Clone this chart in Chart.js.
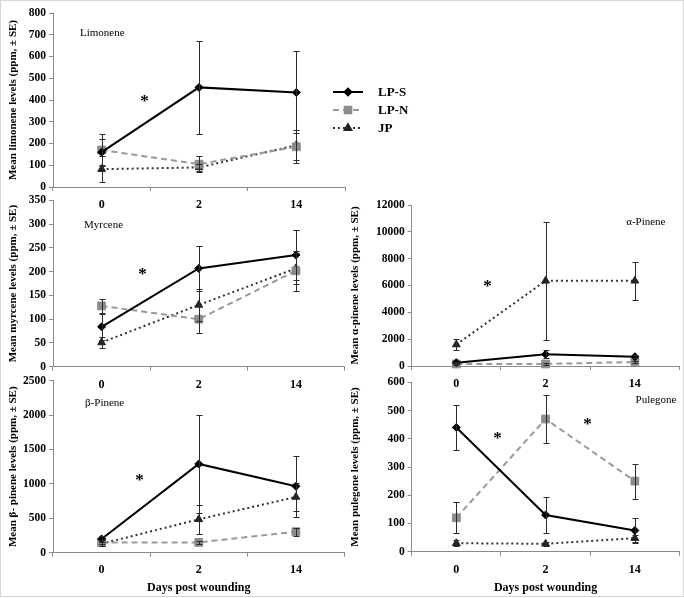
<!DOCTYPE html>
<html><head><meta charset="utf-8">
<script src="https://cdn.jsdelivr.net/npm/chart.js@4.4.1/dist/chart.umd.min.js"></script>
<style>
html,body{margin:0;padding:0;background:#fff;}
#wrap{position:relative;width:684px;height:598px;overflow:hidden;background:#fff;}
#frame{position:absolute;left:0;top:0;width:682px;height:595px;border:1px solid #d6d6d6;pointer-events:none;}
canvas{position:absolute;}
</style></head><body>
<div id="wrap">
<canvas id="cA" width="684" height="215" style="left:0;top:0"></canvas>
<canvas id="cB" width="351" height="200" style="left:0;top:190px"></canvas>
<canvas id="cC" width="351" height="228" style="left:0;top:370px"></canvas>
<canvas id="cD" width="344" height="200" style="left:342px;top:190px"></canvas>
<canvas id="cE" width="344" height="228" style="left:342px;top:370px"></canvas>
<div id="frame"></div>
</div>
<script>
// ---- data ----
const days = ['0', '2', '14'];
const seriesNames = ['LP-S', 'LP-N', 'JP'];

const limoneneLPS = [160, 458, 435];   const limoneneLPSse = [60, 215, 188];
const limoneneLPN = [170, 105, 185];   const limoneneLPNse = [75, 38, 75];
const limoneneJP  = [82, 90, 192];     const limoneneJPse  = [60, 15, 70];

const myrceneLPS = [84, 207, 235];     const myrceneLPSse = [28, 47, 52];
const myrceneLPN = [128, 100, 202];    const myrceneLPNse = [14, 28, 42];
const myrceneJP  = [51, 130, 207];     const myrceneJPse  = [12, 33, 33];

const bPineneLPS = [200, 1290, 965];   const bPineneLPSse = [40, 710, 440];
const bPineneLPN = [150, 150, 305];    const bPineneLPNse = [30, 20, 60];
const bPineneJP  = [130, 485, 810];    const bPineneJPse  = [30, 215, 200];

const aPineneLPS = [250, 870, 690];    const aPineneLPSse = [80, 300, 100];
const aPineneLPN = [150, 150, 300];    const aPineneLPNse = [50, 50, 60];
const aPineneJP  = [1600, 6350, 6350]; const aPineneJPse  = [420, 4400, 1400];

const pulegoneLPS = [440, 130, 75];    const pulegoneLPSse = [80, 65, 45];
const pulegoneLPN = [120, 470, 250];   const pulegoneLPNse = [55, 85, 62];
const pulegoneJP  = [30, 28, 48];      const pulegoneJPse  = [10, 8, 12];

// significance marks: [category position, value]
const limoneneStars = [[0.44, 409]];
const myrceneStars  = [[0.42, 203]];
const bPineneStars  = [[0.39, 1100]];
const aPineneStars  = [[0.35, 6185]];
const pulegoneStars = [[0.46, 413], [1.47, 463]];

// ---- styles ----
const FONT = '"Liberation Serif", "Times New Roman", serif';
const AXIS = '#8a8a8a';
const styles = {
  'LP-S': {borderColor:'#000', backgroundColor:'#000', pointBorderColor:'#000', borderWidth:2, borderDash:[], pointStyle:'rectRot', pointRadius:4},
  'LP-N': {borderColor:'#9a9a9a', backgroundColor:'#8c8c8c', pointBorderColor:'#8c8c8c', borderWidth:2, borderDash:[6,4], pointStyle:'rect', pointRadius:5.5},
  'JP':   {borderColor:'#333', backgroundColor:'#222', pointBorderColor:'#222', borderWidth:2, borderDash:[2,3], pointStyle:'triangle', pointRadius:4.5}
};

const errorBars = {
  id: 'errorBars',
  afterDatasetsDraw(chart) {
    const ctx = chart.ctx, ys = chart.scales.y;
    ctx.save();
    ctx.strokeStyle = '#2a2a2a';
    ctx.lineWidth = 1;
    ctx.setLineDash([]);
    chart.data.datasets.forEach((ds, i) => {
      const meta = chart.getDatasetMeta(i);
      ds.errors.forEach((e, j) => {
        const p = meta.data[j];
        const v = ds.data[j];
        const x = Math.round(p.x) + 0.5;
        const yt = Math.round(ys.getPixelForValue(v + e)) + 0.5;
        const yb = Math.round(ys.getPixelForValue(Math.max(v - e, 0))) + 0.5;
        ctx.beginPath();
        ctx.moveTo(x, yt); ctx.lineTo(x, yb);
        ctx.moveTo(x - 3, yt); ctx.lineTo(x + 3, yt);
        ctx.moveTo(x - 3, yb); ctx.lineTo(x + 3, yb);
        ctx.stroke();
      });
    });
    ctx.restore();
  }
};

const panelText = {
  id: 'panelText',
  afterDraw(chart, args, o) {
    if (!o || !o.name) return;
    const ctx = chart.ctx, a = chart.chartArea, xs = chart.scales.x, ys = chart.scales.y;
    ctx.save();
    ctx.fillStyle = '#000';
    ctx.font = '11px ' + FONT;
    ctx.textBaseline = 'middle';
    ctx.textAlign = o.align;
    const nx = o.align === 'left' ? a.left + o.dx : a.right - o.dx;
    ctx.fillText(o.name, nx, a.top + o.dy);
    ctx.font = 'bold 17px ' + FONT;
    ctx.textAlign = 'center';
    o.stars.forEach(s => {
      ctx.fillText('*', xs.getPixelForValue(s[0]), ys.getPixelForValue(s[1]) + 4);
    });
    ctx.restore();
  }
};

function drawMarker(ctx, style, r, x, y) {
  if (Chart.helpers && Chart.helpers.drawPoint) {
    Chart.helpers.drawPoint(ctx, {pointStyle: style, radius: r, borderWidth: 1, rotation: 0}, x, y);
  } else {
    ctx.beginPath(); ctx.arc(x, y, r, 0, Math.PI * 2); ctx.fill();
  }
}

const lineLegend = {
  id: 'lineLegend',
  afterDraw(chart, args, o) {
    if (!o || !o.show) return;
    const ctx = chart.ctx;
    chart.data.datasets.forEach((ds, i) => {
      const y = o.y0 + i * o.dy;
      ctx.save();
      ctx.strokeStyle = ds.borderColor;
      ctx.lineWidth = ds.borderWidth;
      ctx.setLineDash(ds.borderDash);
      ctx.beginPath(); ctx.moveTo(o.x0, y); ctx.lineTo(o.x1, y); ctx.stroke();
      ctx.setLineDash([]);
      ctx.fillStyle = ds.backgroundColor;
      ctx.strokeStyle = ds.pointBorderColor;
      drawMarker(ctx, ds.pointStyle, ds.pointRadius * 0.85, (o.x0 + o.x1) / 2, y);
      ctx.fillStyle = '#000';
      ctx.font = 'bold 13px ' + FONT;
      ctx.textAlign = 'left';
      ctx.textBaseline = 'middle';
      ctx.fillText(ds.label, o.tx, y + 1);
      ctx.restore();
    });
  }
};

function makeChart(id, c) {
  const datasets = c.series.map((vals, i) => Object.assign({
    label: seriesNames[i], data: vals, errors: c.errors[i],
    tension: 0, pointBorderWidth: 1, fill: false, clip: false
  }, styles[seriesNames[i]]));
  return new Chart(document.getElementById(id), {
    type: 'line',
    data: {labels: days, datasets: datasets},
    options: {
      responsive: false, animation: false, devicePixelRatio: 1,
      layout: {padding: c.pad},
      plugins: {
        legend: {display: false}, tooltip: {enabled: false},
        panelText: c.text,
        lineLegend: c.legend || {show: false}
      },
      scales: {
        x: {
          type: 'category', offset: true,
          grid: {display: true, offset: true, drawOnChartArea: false, drawTicks: true, tickLength: 4, color: AXIS},
          border: {display: true, color: AXIS, width: 1},
          ticks: {color: '#000', font: {family: FONT, size: 12, weight: 'bold'}, padding: c.xpad, maxRotation: 0, autoSkip: false},
          title: {display: !!c.xTitle, text: c.xTitle || '', color: '#000', font: {family: FONT, size: 12, weight: 'bold'}, padding: {top: 0, bottom: 3}},
          afterFit: s => { s.height = c.xh; }
        },
        y: {
          min: 0, max: c.max,
          grid: {display: true, drawOnChartArea: false, drawTicks: true, tickLength: 4, color: AXIS},
          border: {display: true, color: AXIS, width: 1},
          ticks: {stepSize: c.step, color: '#000', padding: 3, font: {family: FONT, size: 11.5, weight: 'bold'},
                  callback: v => String(v)},
          title: {display: true, text: c.yTitle, color: '#000', font: {family: FONT, size: 11, weight: 'bold'}, padding: {top: 6.5, bottom: 0}},
          afterFit: s => { s.width = c.yw; }
        }
      }
    },
    plugins: [errorBars, panelText, lineLegend]
  });
}

makeChart('cA', {
  series: [limoneneLPS, limoneneLPN, limoneneJP],
  errors: [limoneneLPSse, limoneneLPNse, limoneneJPse],
  max: 800, step: 100, yTitle: 'Mean limonene levels (ppm, ± SE)',
  pad: {top: 13, left: 0, right: 339, bottom: 0}, yw: 53, xh: 28, xpad: 7,
  text: {name: 'Limonene', align: 'left', dx: 27, dy: 20, stars: limoneneStars},
  legend: {show: true, x0: 333, x1: 363, y0: 92, dy: 18, tx: 378}
});
makeChart('cB', {
  series: [myrceneLPS, myrceneLPN, myrceneJP],
  errors: [myrceneLPSse, myrceneLPNse, myrceneJPse],
  max: 350, step: 50, yTitle: 'Mean myrcene levels (ppm, ± SE)',
  pad: {top: 10.5, left: 0, right: 0, bottom: 0}, yw: 53, xh: 23.3, xpad: 7,
  text: {name: 'Myrcene', align: 'left', dx: 31, dy: 25, stars: myrceneStars}
});
makeChart('cC', {
  series: [bPineneLPS, bPineneLPN, bPineneJP],
  errors: [bPineneLPSse, bPineneLPNse, bPineneJPse],
  max: 2500, step: 500, yTitle: 'Mean β- pinene levels (ppm, ± SE)', xTitle: 'Days post wounding',
  pad: {top: 10.7, left: 0, right: 0, bottom: 0}, yw: 53, xh: 45.3, xpad: 6,
  text: {name: 'β-Pinene', align: 'left', dx: 32, dy: 22, stars: bPineneStars}
});
makeChart('cD', {
  series: [aPineneLPS, aPineneLPN, aPineneJP],
  errors: [aPineneLPSse, aPineneLPNse, aPineneJPse],
  max: 12000, step: 2000, yTitle: 'Mean α-pinene levels (ppm, ± SE)',
  pad: {top: 15, left: 0, right: 5, bottom: 0}, yw: 69.7, xh: 24, xpad: 7,
  text: {name: 'α-Pinene', align: 'right', dx: 14, dy: 17, stars: aPineneStars}
});
makeChart('cE', {
  series: [pulegoneLPS, pulegoneLPN, pulegoneJP],
  errors: [pulegoneLPSse, pulegoneLPNse, pulegoneJPse],
  max: 600, step: 100, yTitle: 'Mean pulegone levels (ppm, ± SE)', xTitle: 'Days post wounding',
  pad: {top: 12.3, left: 0, right: 5, bottom: 0}, yw: 69.7, xh: 46.3, xpad: 7,
  text: {name: 'Pulegone', align: 'right', dx: 3, dy: 18, stars: pulegoneStars}
});
</script>
</body></html>
